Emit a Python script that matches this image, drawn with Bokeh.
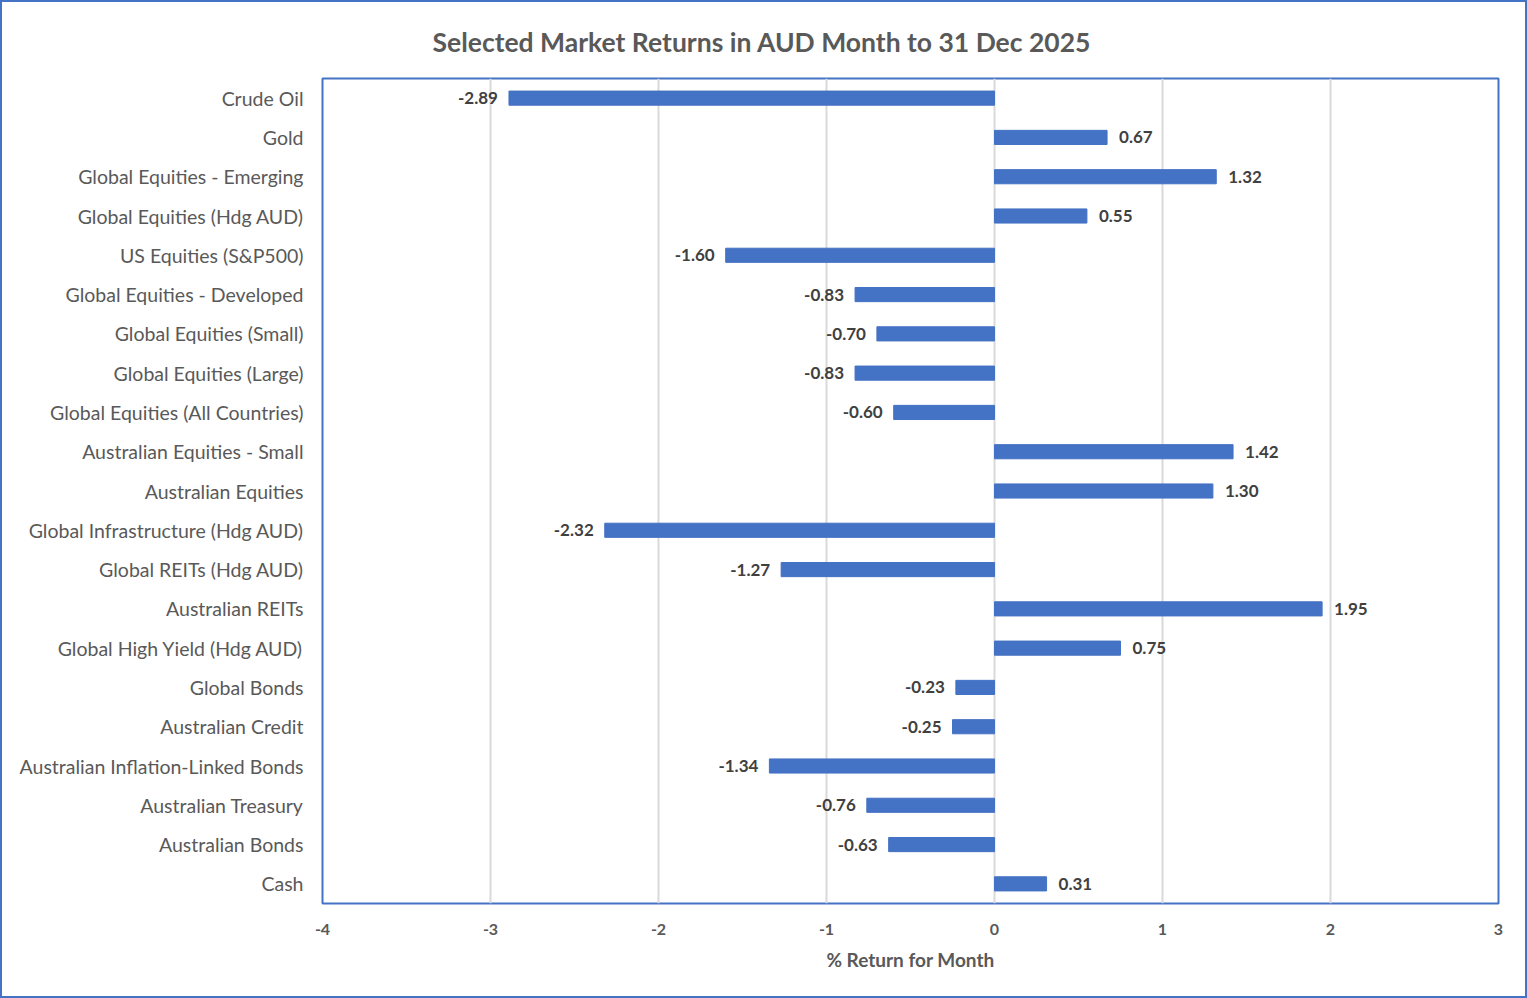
from bokeh.plotting import figure
from bokeh.layouts import column
from bokeh.models import ColumnDataSource, FixedTicker
from bokeh.core.properties import value
from bokeh.embed import file_html
from bokeh.resources import INLINE

categories = [
    "Crude Oil", "Gold", "Global Equities - Emerging", "Global Equities (Hdg AUD)",
    "US Equities (S&P500)", "Global Equities - Developed", "Global Equities (Small)",
    "Global Equities (Large)", "Global Equities (All Countries)", "Australian Equities - Small",
    "Australian Equities", "Global Infrastructure (Hdg AUD)", "Global REITs (Hdg AUD)",
    "Australian REITs", "Global High Yield (Hdg AUD)", "Global Bonds", "Australian Credit",
    "Australian Inflation-Linked Bonds", "Australian Treasury", "Australian Bonds", "Cash",
]
returns = [-2.89, 0.67, 1.32, 0.55, -1.60, -0.83, -0.70, -0.83, -0.60, 1.42, 1.30,
           -2.32, -1.27, 1.95, 0.75, -0.23, -0.25, -1.34, -0.76, -0.63, 0.31]
x_ticks = [-4, -3, -2, -1, 0, 1, 2, 3]
x_tick_labels = ["-4", "-3", "-2", "-1", "0", "1", "2", "3"]

title_text = "Selected Market Returns in AUD Month to 31 Dec 2025"
x_label = "% Return for Month"

FONT = "Lato"
BLUE = "#4472C4"

src = ColumnDataSource(dict(
    cat=categories,
    val=returns,
    lbl=[f"{v:.2f}" for v in returns],
    align=["right" if v < 0 else "left" for v in returns],
    xoff=[-11 if v < 0 else 12 for v in returns],
))

p = figure(
    y_range=list(reversed(categories)), x_range=(-4, 3),
    frame_width=1176, frame_height=825,
    min_border_left=320, min_border_right=27, min_border_top=76, min_border_bottom=93,
    output_backend="svg", toolbar_location=None,
    background_fill_color="white", border_fill_color="white",
)

p.title.text = title_text
p.title.align = "left"
p.title.offset = 110
p.title.standoff = 41
p.title.text_font = FONT
p.title.text_font_size = "26.5px"
p.title.text_font_style = "bold"
p.title.text_color = "#595959"

p.hbar(y="cat", right="val", left=0, height=0.36, color=BLUE, source=src)
p.text(x="val", y="cat", text="lbl", x_offset="xoff", text_align="align",
       text_baseline="middle", text_font=value(FONT), text_font_size="17px",
       text_font_style="bold", text_color="#404040", source=src)

p.outline_line_color = BLUE
p.outline_line_width = 2
p.ygrid.grid_line_color = None
p.xgrid.grid_line_color = "#D9D9D9"
p.xgrid.grid_line_width = 2
p.xaxis.ticker = FixedTicker(ticks=x_ticks)
p.xaxis.major_label_overrides = dict(zip(x_ticks, x_tick_labels))

for ax in (p.xaxis[0], p.yaxis[0]):
    ax.axis_line_color = None
    ax.major_tick_line_color = None
    ax.minor_tick_line_color = None
    ax.major_tick_out = 0
    ax.major_tick_in = 0
    ax.minor_tick_out = 0

p.yaxis.major_label_standoff = 19
p.yaxis.major_label_text_font = FONT
p.yaxis.major_label_text_font_size = "19.5px"
p.yaxis.major_label_text_color = "#595959"

p.xaxis.major_label_standoff = 20
p.xaxis.major_label_text_font = FONT
p.xaxis.major_label_text_font_size = "16px"
p.xaxis.major_label_text_font_style = "bold"
p.xaxis.major_label_text_color = "#595959"
p.xaxis.axis_label = x_label
p.xaxis.axis_label_standoff = 10
p.xaxis.axis_label_text_font = FONT
p.xaxis.axis_label_text_font_size = "19px"
p.xaxis.axis_label_text_font_style = "bold"
p.xaxis.axis_label_text_color = "#595959"

layout = column(p, styles={"border": f"2px solid {BLUE}", "background": "white"})

open("out.html", "w").write(file_html(layout, INLINE))
